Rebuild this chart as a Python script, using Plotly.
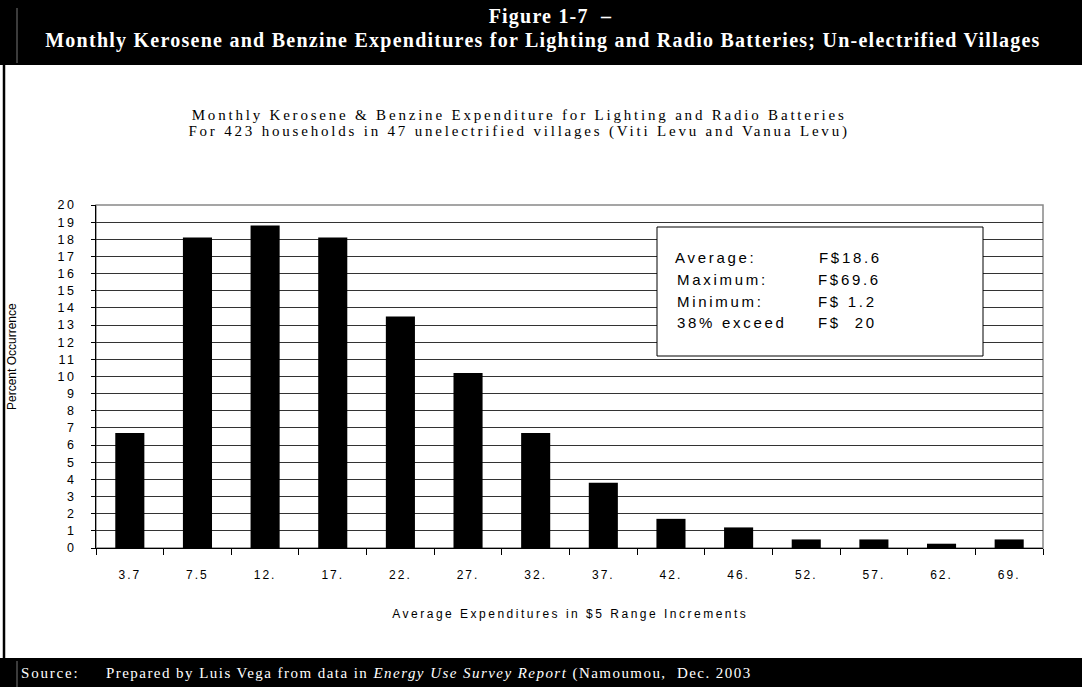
import plotly.graph_objects as go

# ---- data ----
categories = ["3.7", "7.5", "12.", "17.", "22.", "27.", "32.", "37.", "42.", "46.", "52.", "57.", "62.", "69."]
percent_occurrence = [6.7, 18.1, 18.8, 18.1, 13.5, 10.2, 6.7, 3.8, 1.7, 1.2, 0.5, 0.5, 0.25, 0.5]
y_ticks = list(range(0, 21))

header_line1 = "Figure 1-7  \u2013"
header_line2 = "Monthly Kerosene and Benzine Expenditures for Lighting and Radio Batteries; Un-electrified Villages"
chart_title1 = "Monthly Kerosene & Benzine Expenditure for Lighting and Radio Batteries"
chart_title2 = "For 423 households in 47 unelectrified villages (Viti Levu and Vanua Levu)"
x_title = "Average Expenditures in $5 Range Increments"
y_title = "Percent Occurrence"
stat_labels = ["Average:", "Maximum:", "Minimum:", "38% exceed"]
stat_values = ["F$18.6", "F$69.6", "F$ 1.2", "F$  20"]
source_label = "Source:"
source_text = "Prepared by Luis Vega from data in <i>Energy Use Survey Report</i> (Namoumou,  Dec. 2003"

W, H = 1082, 687
L, R, T, B = 96, 1043, 205, 548


def px(x):
    return (x - L) / (R - L)


def py(y):
    return (B - y) / (B - T)


SANS = "Liberation Sans, Arial, sans-serif"
SERIF = "Liberation Serif, Times New Roman, serif"

fig = go.Figure()
fig.add_trace(go.Bar(x=categories, y=percent_occurrence, marker=dict(color="black", line=dict(width=0)),
                     width=0.43, hoverinfo="x+y"))

shapes = [
    dict(type="rect", xref="paper", yref="paper", x0=px(0), x1=px(W), y0=py(0), y1=py(65),
         fillcolor="black", line=dict(width=0), layer="above"),
    dict(type="rect", xref="paper", yref="paper", x0=px(0), x1=px(W), y0=py(658), y1=py(H),
         fillcolor="black", line=dict(width=0), layer="above"),
    dict(type="line", xref="paper", yref="paper", x0=px(4), x1=px(4), y0=py(65), y1=py(658),
         line=dict(color="black", width=2.5), layer="above"),
    dict(type="line", xref="paper", yref="paper", x0=px(17), x1=px(17), y0=py(8), y1=py(63),
         line=dict(color="#777", width=1), layer="above"),
    dict(type="line", xref="paper", yref="paper", x0=px(17), x1=px(17), y0=py(661), y1=py(H),
         line=dict(color="#777", width=1), layer="above"),
    dict(type="rect", xref="paper", yref="paper", x0=0, x1=1, y0=0, y1=1,
         line=dict(color="#888", width=1.5), layer="below"),
    dict(type="rect", xref="paper", yref="paper", x0=px(657), x1=px(983), y0=py(356), y1=py(227),
         fillcolor="white", line=dict(color="black", width=1), layer="above"),
]

annotations = []
spacing = []
anchors = []


def ann(text, x, y, font, xanchor="center", yanchor="middle", ls=0, **kw):
    annotations.append(dict(text=text, xref="paper", yref="paper", x=px(x), y=py(y),
                            xanchor=xanchor, yanchor=yanchor, showarrow=False, font=font, **kw))
    spacing.append(ls)
    anchors.append(xanchor)


ann("<b>" + header_line1 + "</b>", 550, 16, dict(family=SERIF, size=20, color="white"), ls=1.2)
ann("<b>" + header_line2 + "</b>", 543, 40, dict(family=SERIF, size=20, color="white"), ls=1.25)
ann(chart_title1, 519, 115, dict(family=SERIF, size=15, color="black"), ls=2.8)
ann(chart_title2, 519, 132, dict(family=SERIF, size=15, color="black"), ls=2.8)
ann(x_title, 570, 614, dict(family=SANS, size=12, color="black"), ls=2.5)
ann(y_title, 12, 357, dict(family=SANS, size=12, color="black"), textangle=-90, ls=0)
stat_y = [257, 279, 301, 322]
stat_lx = [673, 675, 675, 675]
stat_vx = [817, 816, 816, 816]
for lab, val, yy, lx, vx in zip(stat_labels, stat_values, stat_y, stat_lx, stat_vx):
    ann(lab, lx, yy, dict(family=SANS, size=15, color="black"), xanchor="left", ls=2.7)
    ann(val.replace(" ", "\u00a0"), vx, yy, dict(family=SANS, size=15, color="black"), xanchor="left", ls=2.7)
ann(source_label, 19, 673, dict(family=SERIF, size=15, color="white"), xanchor="left", ls=1.8)
ann(source_text, 104, 673, dict(family=SERIF, size=15, color="white"), xanchor="left", ls=1.45)

fig.update_layout(
    width=W, height=H,
    margin=dict(l=L, r=W - R, t=T, b=H - B, pad=0),
    paper_bgcolor="white", plot_bgcolor="white",
    showlegend=False, bargap=0.57,
    shapes=shapes, annotations=annotations,
    xaxis=dict(type="category", tickson="boundaries", ticks="outside", ticklen=6, tickcolor="black",
               showline=True, linecolor="black", linewidth=1, showgrid=False,
               tickfont=dict(family=SANS, size=12, color="black"), ticklabelstandoff=16),
    yaxis=dict(range=[0, 20], tickvals=y_ticks, ticks="outside", ticklen=4, tickcolor="black",
               showline=True, linecolor="black", linewidth=1, showgrid=True, gridcolor="#333",
               gridwidth=1, zeroline=False,
               tickfont=dict(family=SANS, size=12.5, color="black"), ticklabelstandoff=12),
)

post = """
document.body.style.margin = '0';
var gd = document.getElementById('{plot_id}');
var sp = %s;
var anc = %s;
gd.querySelectorAll('.xtick text').forEach(function(t){ t.style.letterSpacing='2px'; });
gd.querySelectorAll('.ytick text').forEach(function(t){ t.style.letterSpacing='2.5px'; });
gd.querySelectorAll('g.annotation').forEach(function(g){
  var i = parseInt(g.getAttribute('data-index'));
  var t = g.querySelector('text');
  if (!t || !sp[i]) return;
  var b0 = t.getBBox();
  t.style.letterSpacing = sp[i] + 'px';
  var b1 = t.getBBox();
  var dx;
  if (anc[i] === 'left') { dx = b0.x - b1.x; }
  else { dx = (b0.x + b0.width / 2) - (b1.x + b1.width / 2); }
  t.setAttribute('transform', 'translate(' + dx + ',0)');
});
""" % (str(spacing), str(anchors).replace("'", '"'))

fig.write_html("out.html", post_script=post, config={"displayModeBar": False})
